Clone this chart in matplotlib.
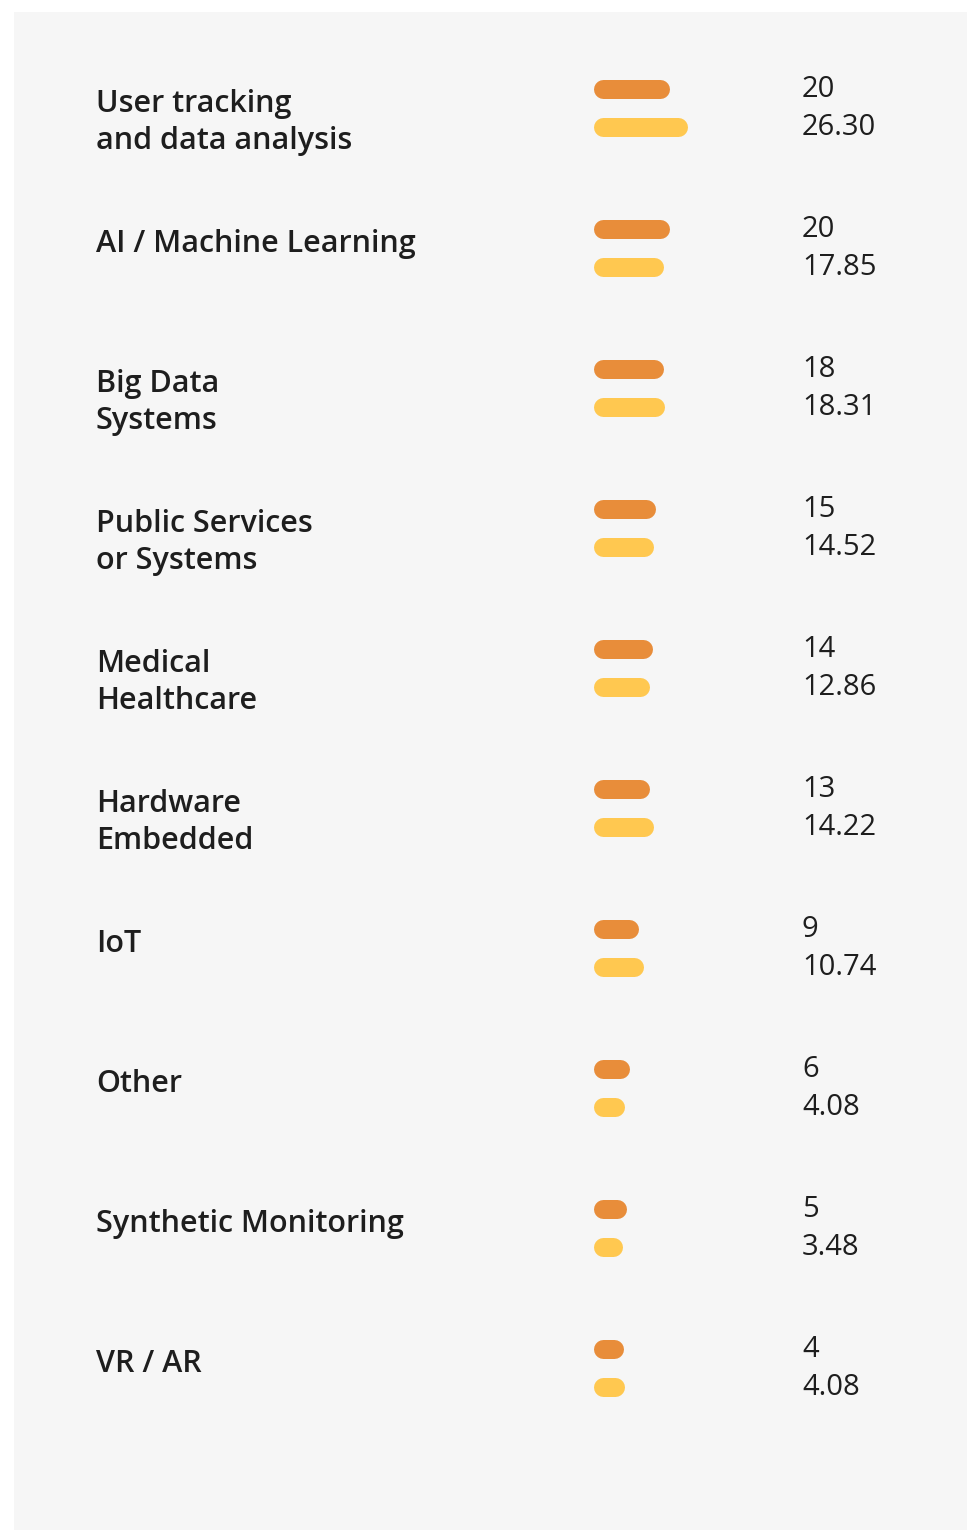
import matplotlib.pyplot as plt
from matplotlib.patches import Rectangle
import matplotlib.transforms as mtransforms

# categories and values
labels = ['User tracking\nand data analysis', 'AI / Machine Learning', 'Big Data\nSystems',
          'Public Services\nor Systems', 'Medical\nHealthcare', 'Hardware\nEmbedded', 'IoT',
          'Other', 'Synthetic Monitoring', 'VR / AR']
orange_vals = [20, 20, 18, 15, 14, 13, 9, 6, 5, 4]
yellow_vals = [26.30, 17.85, 18.31, 14.52, 12.86, 14.22, 10.74, 4.08, 3.48, 4.08]
orange_txt = ['20', '20', '18', '15', '14', '13', '9', '6', '5', '4']
yellow_txt = ['26.30', '17.85', '18.31', '14.52', '12.86', '14.22', '10.74', '4.08', '3.48', '4.08']

ORANGE = '#e88d3a'
YELLOW = '#ffc850'
TXT = '#1e1e1e'

plt.rcParams['font.family'] = ['Open Sans', 'DejaVu Sans']

W, H = 970, 1530
fig = plt.figure(figsize=(W / 100, H / 100), dpi=100)
fig.patch.set_facecolor('white')

# panel
fig.patches.append(Rectangle((14 / W, 0), (967 - 14) / W, (H - 12) / H,
                             transform=fig.transFigure, facecolor='#f6f6f6',
                             edgecolor='none', zorder=-5))

ax = fig.add_axes([0, 0, 1, 1])
ax.set_facecolor('none')
ax.axis('off')
ax.set_zorder(2)

# layout: row pitch 140 px, first row at 108 px, bar start at 603 px, 2.85 px per unit
pitch = 140
x0 = 603
k = 2.85
ax.set_xlim(-x0 / k, (W - x0) / k)
ax.set_ylim((H - 108) / pitch, -108 / pitch)

off = 19 / pitch
lw = 19 * 72 / 100
tr = mtransforms.blended_transform_factory(ax.transAxes, ax.transData)

for i in range(len(labels)):
    ax.plot([0, orange_vals[i]], [i - off, i - off], color=ORANGE, lw=lw,
            solid_capstyle='round')
    ax.plot([0, yellow_vals[i]], [i + off, i + off], color=YELLOW, lw=lw,
            solid_capstyle='round')
    # labels hang from the top of the row
    ax.text(96 / W, i - 0.135, labels[i], transform=tr, fontsize=22,
            fontweight='semibold', color=TXT, va='top', ha='left', linespacing=1.28)
    ax.text(802 / W, i - off, orange_txt[i], transform=tr, fontsize=21,
            color=TXT, va='center', ha='left')
    ax.text(802 / W, i + off, yellow_txt[i], transform=tr, fontsize=21,
            color=TXT, va='center', ha='left')

fig.savefig('out.png', dpi=100)
